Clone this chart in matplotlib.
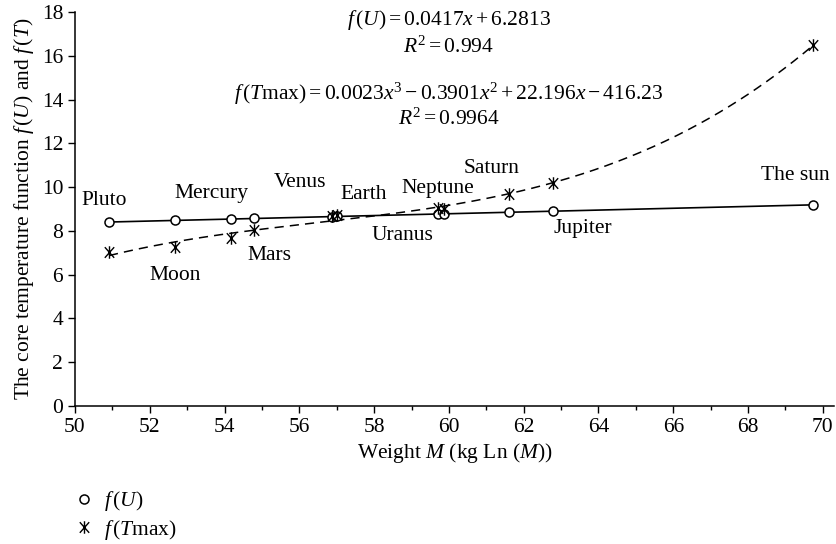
import numpy as np
import matplotlib
matplotlib.use("Agg")
import matplotlib.pyplot as plt
from matplotlib.path import Path

plt.rcParams["font.family"] = ["Liberation Serif", "DejaVu Serif"]
plt.rcParams["mathtext.fontset"] = "custom"
plt.rcParams["mathtext.rm"] = "Liberation Serif"
plt.rcParams["mathtext.it"] = "Liberation Serif:italic"
plt.rcParams["font.size"] = 15.5

# bodies of the solar system: weight as ln(M) and the two core functions
bodies = ["Pluto", "Moon", "Mercury", "Mars", "Venus", "Earth",
          "Neptune", "Uranus", "Saturn", "Jupiter", "The sun"]
weight = [50.91, 52.67, 54.16, 54.79, 56.88, 57.02,
          59.72, 59.88, 61.60, 62.78, 69.74]
f_u = [8.40, 8.48, 8.54, 8.57, 8.65, 8.66,
       8.77, 8.78, 8.85, 8.90, 9.19]
f_tmax = [7.05, 7.24, 7.68, 8.06, 8.66, 8.72,
          9.05, 9.02, 9.68, 10.18, 16.50]

# label anchor for each body name
label_x = [50.78, 52.67, 53.66, 55.19, 56.02, 57.73,
           59.71, 58.77, 61.15, 63.58, 69.25]
label_y = [9.41, 5.96, 9.73, 6.89, 10.19, 9.68,
           9.96, 7.78, 10.87, 8.13, 10.55]

eq_u = "$f\\,(U) = 0.0417x + 6.2813$"
r2_u = "$R^2 = 0.994$"
eq_t = "$f\\,(T\\mathrm{max}) = 0.0023x^3 - 0.3901x^2 + 22.196x - 416.23$"
r2_t = "$R^2 = 0.9964$"

# asterisk-like marker: a vertical bar crossed by an X
star = Path([(0, -1), (0, 1), (-0.75, -0.85), (0.75, 0.85), (-0.75, 0.85), (0.75, -0.85)],
            [Path.MOVETO, Path.LINETO, Path.MOVETO, Path.LINETO, Path.MOVETO, Path.LINETO])

fig = plt.figure(figsize=(8.36, 5.44), dpi=100)
ax = fig.add_axes([0.0897, 0.2542, 0.908, 0.7232])

x = np.array(weight)
xs = np.linspace(x.min(), x.max(), 300)
lin = np.polyfit(x, f_u, 1)
cub = np.polyfit(x, f_tmax, 3)
ax.plot(xs, np.polyval(lin, xs), color="black", lw=1.2)
ax.plot(xs, np.polyval(cub, xs), color="black", lw=1.1, ls=(0, (6, 4)))

ax.plot(weight, f_u, ls="none", marker="o", ms=6.5, mfc="white", mec="black",
        mew=1.1, label="$f\\,(U)$")
ax.plot(weight, f_tmax, ls="none", marker=star, ms=9, color="black",
        mew=1.0, label="$f\\,(T\\mathrm{max})$")

for name, lx, ly in zip(bodies, label_x, label_y):
    ax.text(lx, ly, name, ha="center", va="center")

ax.text(60.0, 17.64, eq_u, ha="center", va="center")
ax.text(60.0, 16.42, r2_u, ha="center", va="center")
ax.text(60.0, 14.25, eq_t, ha="center", va="center")
ax.text(60.0, 13.12, r2_t, ha="center", va="center")

ax.set_xlim(50, 70.3)
ax.set_ylim(0, 18)
ax.set_xticks(np.arange(50, 71, 2))
ax.set_xticks(np.arange(51, 70, 2), minor=True)
ax.set_yticks(np.arange(0, 19, 2))
ax.spines["top"].set_visible(False)
ax.spines["right"].set_visible(False)
for s in ("left", "bottom"):
    ax.spines[s].set_linewidth(1.1)
ax.tick_params(which="major", direction="out", length=5, width=1.0)
ax.tick_params(which="minor", direction="out", length=3, width=1.0)

ax.set_xlabel("Weight $M$ (kg Ln ($M$))", labelpad=3)
ax.set_ylabel("The core temperature function $f\\,(U)$ and $f\\,(T)$", labelpad=4)

fig.legend(loc="upper left", bbox_to_anchor=(0.075, 0.12), frameon=False,
           handlelength=1.0, handletextpad=0.4, labelspacing=0.2, borderpad=0.0)

fig.savefig("out.png", dpi=100)
